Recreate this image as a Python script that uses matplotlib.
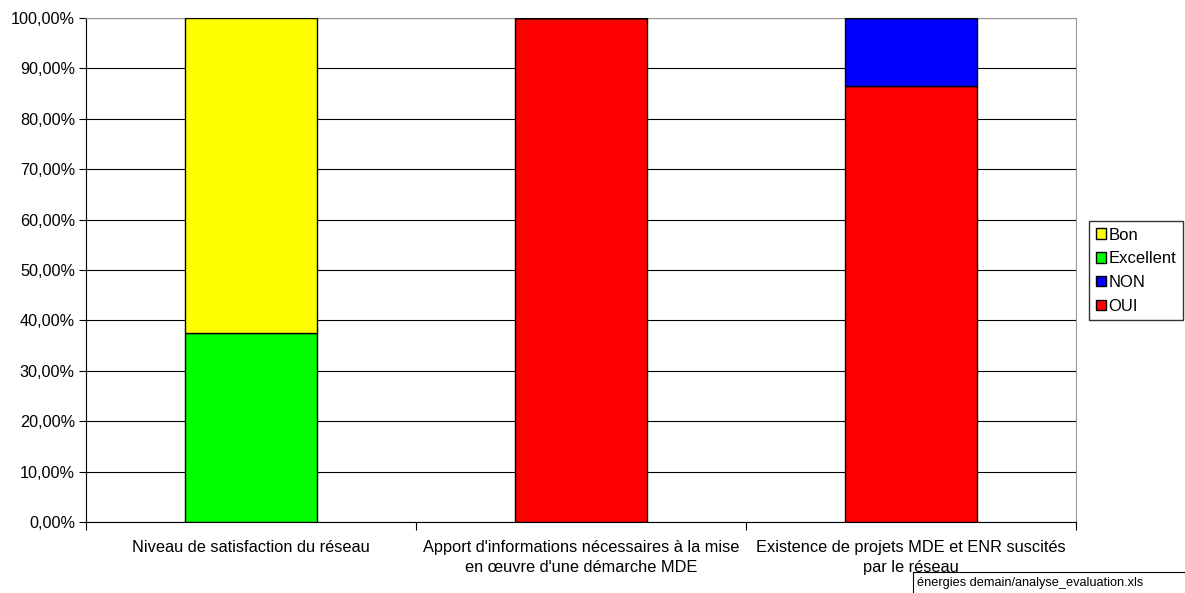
import matplotlib.pyplot as plt
from matplotlib.lines import Line2D
from matplotlib.patches import Patch

plt.rcParams["font.family"] = ["Liberation Sans", "DejaVu Sans"]

categories = [
    "Niveau de satisfaction du réseau",
    "Apport d'informations nécessaires à la mise\nen œuvre d'une démarche MDE",
    "Existence de projets MDE et ENR suscités\npar le réseau",
]
# stacked from bottom: OUI, NON, Excellent, Bon
oui       = [0.0, 100.0, 86.5]
non       = [0.0, 0.0, 13.5]
excellent = [37.5, 0.0, 0.0]
bon       = [62.5, 0.0, 0.0]

series = [("OUI", oui, "#ff0000"), ("NON", non, "#0000ff"),
          ("Excellent", excellent, "#00ff00"), ("Bon", bon, "#ffff00")]

fig = plt.figure(figsize=(11.85, 5.93), dpi=100)
ax = fig.add_axes([86 / 1185, 71 / 593, 990 / 1185, 504 / 593])

x = list(range(len(categories)))
bottom = [0.0] * len(categories)
for name, vals, col in series:
    ax.bar(x, vals, width=0.4, bottom=bottom, color=col, edgecolor="black",
           linewidth=1.0, zorder=3)
    bottom = [b + v for b, v in zip(bottom, vals)]

ax.set_xlim(-0.5, 2.5)
ax.set_ylim(0, 100)
ax.set_yticks(range(0, 101, 10))
ax.set_yticklabels([f"{v},00%" for v in range(0, 101, 10)], fontsize=11.7)
ax.yaxis.grid(True, color="black", linewidth=0.8, zorder=0)
ax.tick_params(axis="y", length=5, width=0.8, pad=3)

ax.set_xticks(x)
ax.set_xticklabels(categories, fontsize=11.8, linespacing=1.4)
ax.tick_params(axis="x", which="major", length=0, pad=13)
ax.set_xticks([-0.5, 0.5, 1.5, 2.5], minor=True)
ax.tick_params(axis="x", which="minor", length=6, width=0.8)

ax.spines["left"].set_color("black")
ax.spines["bottom"].set_color("black")
ax.spines["top"].set_color("#999999")
ax.spines["right"].set_color("#999999")

handles = [Patch(facecolor=c, edgecolor="black", label=n) for n, _, c in reversed(series)]
fig.legend(handles=handles, loc="upper left", bbox_to_anchor=(1089 / 1185, 1 - 221 / 593),
           fontsize=12, frameon=True, fancybox=False, edgecolor="black",
           handlelength=0.6, handleheight=0.6, handletextpad=0.15,
           borderpad=0.4, labelspacing=0.52, borderaxespad=0)

# footnote box
fig.add_artist(Line2D([913 / 1185, 913 / 1185], [0, 21 / 593], color="black", linewidth=0.8))
fig.add_artist(Line2D([913 / 1185, 1], [21 / 593, 21 / 593], color="black", linewidth=0.8))
fig.text(917 / 1185, 10 / 593, "énergies demain/analyse_evaluation.xls", fontsize=9.2, va="center")

plt.savefig("out.png", dpi=100)
